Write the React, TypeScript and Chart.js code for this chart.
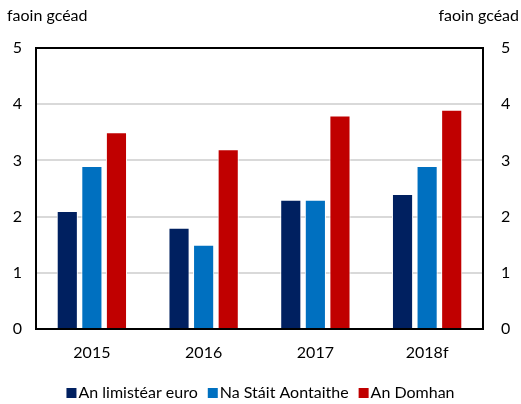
import React, { useEffect, useRef } from 'react';
import { Chart, registerables } from 'chart.js';

Chart.register(...registerables);

const categories = ['2015', '2016', '2017', '2018f'];
const euroArea = [2.1, 1.8, 2.3, 2.4];
const unitedStates = [2.9, 1.5, 2.3, 2.9];
const world = [3.5, 3.2, 3.8, 3.9];
const seriesNames = ['An limistéar euro', 'Na Stáit Aontaithe', 'An Domhan'];
const seriesColors = ['#002060', '#0070C0', '#C00000'];
const unitLabel = 'faoin gcéad';

const FONT = 'Lato, "DejaVu Sans", sans-serif';
const FS = 16;

export default function App() {
  const ref = useRef<HTMLCanvasElement | null>(null);

  useEffect(() => {
    document.body.style.margin = '0';
    const frame = {
      id: 'frame',
      afterDatasetsDraw(chart: any) {
        const { ctx, chartArea: a } = chart;
        ctx.save();
        ctx.strokeStyle = '#000';
        ctx.lineWidth = 2;
        ctx.strokeRect(a.left, a.top, a.right - a.left, a.bottom - a.top);
        ctx.fillStyle = '#000';
        ctx.font = FS + 'px ' + FONT;
        ctx.textBaseline = 'middle';
        ctx.textAlign = 'left';
        ctx.fillText(unitLabel, 7, 16);
        ctx.textAlign = 'right';
        ctx.fillText(unitLabel, 519, 16);

        // legend
        const box = 10, gap = 2, spacing = 10;
        const items = chart.data.datasets.map((d: any) => ({
          label: d.label as string,
          color: d.backgroundColor as string,
          w: ctx.measureText(d.label).width,
        }));
        const total = items.reduce((s: number, it: any) => s + box + gap + it.w, 0) + spacing * (items.length - 1);
        let x = (chart.width - total) / 2;
        const y = 393;
        ctx.textAlign = 'left';
        items.forEach((it: any) => {
          ctx.fillStyle = it.color;
          ctx.fillRect(x, y - 5, box, box);
          ctx.fillStyle = '#000';
          ctx.fillText(it.label, x + box + gap, y);
          x += box + gap + it.w + spacing;
        });
        ctx.restore();
      },
    };
    const chart = new Chart(ref.current!, {
      type: 'bar',
      data: {
        labels: categories,
        datasets: [
          { label: seriesNames[0], data: euroArea, backgroundColor: seriesColors[0], borderColor: '#ffffff', borderWidth: 1 },
          { label: seriesNames[1], data: unitedStates, backgroundColor: seriesColors[1], borderColor: '#ffffff', borderWidth: 1 },
          { label: seriesNames[2], data: world, backgroundColor: seriesColors[2], borderColor: '#ffffff', borderWidth: 1 },
        ],
      },
      options: {
        animation: false,
        responsive: false,
        maintainAspectRatio: false,
        layout: { padding: { top: 48, left: 0, right: 0, bottom: 35 } },
        datasets: { bar: { categoryPercentage: 0.66, barPercentage: 0.86 } },
        plugins: {
          legend: { display: false },
          tooltip: { enabled: false },
        },
        scales: {
          x: {
            grid: { display: false, drawTicks: false },
            border: { display: false },
            ticks: { color: '#000', font: { family: FONT, size: FS }, padding: 14 },
            afterFit(s: any) { s.height = 40; },
          },
          y: {
            position: 'left',
            min: 0,
            max: 5,
            grid: { color: '#d9d9d9', lineWidth: 2, drawTicks: false },
            border: { display: false },
            ticks: { stepSize: 1, color: '#000', font: { family: FONT, size: FS }, padding: 14 },
            afterFit(s: any) { s.width = 36; },
          },
          y2: {
            position: 'right',
            min: 0,
            max: 5,
            grid: { display: false, drawTicks: false },
            border: { display: false },
            ticks: { stepSize: 1, color: '#000', font: { family: FONT, size: FS }, padding: 18 },
            afterFit(s: any) { s.width = 38; },
          },
        },
      },
      plugins: [frame],
    } as any);
    return () => chart.destroy();
  }, []);

  return (
    <div style={{ width: 521, height: 404 }}>
      <canvas ref={ref} width={521} height={404} style={{ display: 'block' }} />
    </div>
  );
}
